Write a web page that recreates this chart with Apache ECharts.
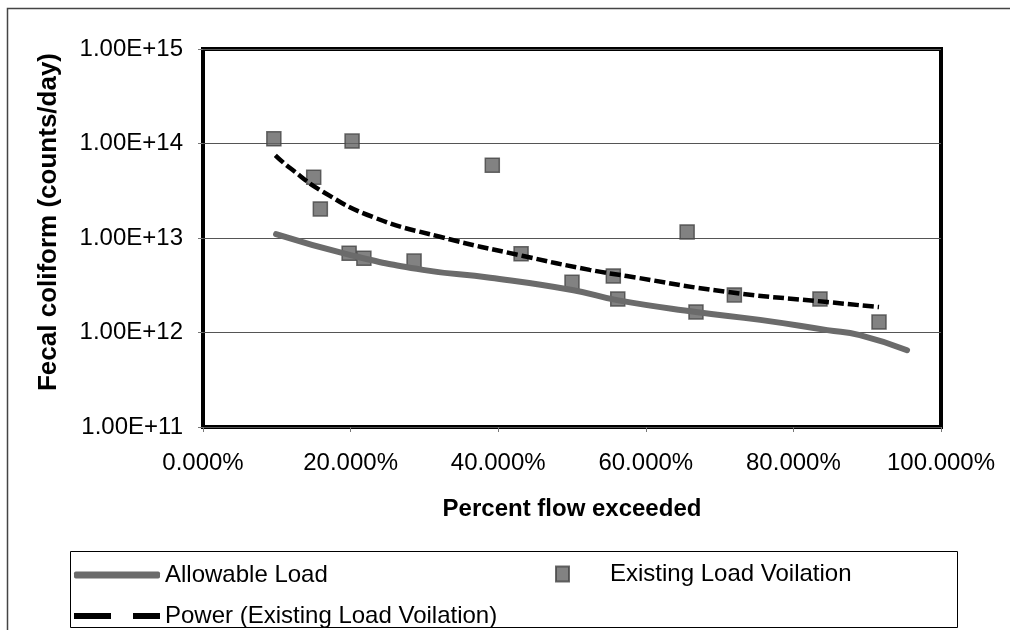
<!DOCTYPE html>
<html>
<head>
<meta charset="utf-8">
<script src="https://cdn.jsdelivr.net/npm/echarts@6/dist/echarts.min.js"></script>
<style>
  html, body { margin: 0; padding: 0; background: #fff; }
  #chart { width: 1010px; height: 630px; }
</style>
</head>
<body>
<div id="chart"></div>
<script>
// values (x = fraction of flow exceeded)
let allowX = [0.099, 0.2, 0.298, 0.389, 0.502, 0.561, 0.668, 0.755, 0.846, 0.89, 0.954]
let allowY = [1.1e13, 6.6e12, 4.6e12, 3.8e12, 2.8e12, 2.2e12, 1.65e12, 1.36e12, 1.06e12, 9.4e11, 6.5e11]

let existX = [0.096, 0.150, 0.159, 0.198, 0.202, 0.218, 0.286, 0.392, 0.431, 0.500, 0.556, 0.562, 0.656, 0.668, 0.720, 0.836, 0.916]
let existY = [1.12e14, 4.4e13, 2.03e13, 6.9e12, 1.06e14, 6.1e12, 5.7e12, 5.9e13, 6.8e12, 3.4e12, 3.96e12, 2.26e12, 1.16e13, 1.65e12, 2.5e12, 2.26e12, 1.29e12]

// power trendline
let powerX = [0.098, 0.118, 0.163, 0.230, 0.321, 0.434, 0.524, 0.574, 0.710, 0.846, 0.916]
let powerY = [7.5e13, 5.5e13, 3.07e13, 1.67e13, 1.03e13, 6.45e12, 4.6e12, 3.96e12, 2.69e12, 2.1e12, 1.86e12]

let seriesNames = ['Allowable Load', 'Existing Load Voilation', 'Power (Existing Load Voilation)']

function pairs(xs, ys) {
  let out = []
  for (let i = 0; i < xs.length; i++) {
    out.push([xs[i], ys[i]])
  }
  return out
}

let font = 'Liberation Sans, Arial, sans-serif'
let chart = echarts.init(document.getElementById('chart'))

let option = {
  backgroundColor: '#fff',
  animation: false,
  textStyle: { fontFamily: font },
  grid: {
    left: 203,
    top: 49,
    width: 738,
    height: 378,
    show: true,
    borderColor: '#000',
    borderWidth: 4
  },
  xAxis: {
    type: 'value',
    min: 0,
    max: 1,
    interval: 0.2,
    name: 'Percent flow exceeded',
    nameLocation: 'middle',
    nameGap: 70,
    nameTextStyle: { fontSize: 24, fontWeight: 'bold', color: '#000', fontFamily: font },
    axisLine: { show: false },
    axisTick: { show: true, length: 5, lineStyle: { color: '#777', width: 1 } },
    axisLabel: {
      margin: 24,
      fontSize: 24,
      color: '#000',
      fontFamily: font,
      formatter: function (v) {
        return (v * 100).toFixed(3) + '%'
      }
    },
    splitLine: { show: false }
  },
  yAxis: {
    type: 'log',
    logBase: 10,
    min: 1e11,
    max: 1e15,
    splitNumber: 4,
    axisLine: { show: false },
    axisTick: { show: true, length: 5, lineStyle: { color: '#777', width: 1 } },
    axisLabel: {
      margin: 20,
      fontSize: 24,
      color: '#000',
      fontFamily: font,
      formatter: function (v) {
        return '1.00E+' + Math.round(Math.log10(v))
      }
    },
    splitLine: { show: true, lineStyle: { color: '#555', width: 1 } },
    minorTick: { show: false }
  },
  legend: [
    {
      data: [{ name: seriesNames[0], icon: 'roundRect' }],
      left: 74,
      top: 563,
      padding: 0,
      itemWidth: 86,
      itemHeight: 7,
      selectedMode: false,
      textStyle: { fontSize: 24, color: '#000', fontFamily: font }
    },
    {
      data: [{ name: seriesNames[1], icon: 'rect' }],
      left: 555,
      top: 562,
      padding: 0,
      itemWidth: 13,
      itemHeight: 15,
      selectedMode: false,
      textStyle: { fontSize: 24, color: '#000', fontFamily: font, padding: [0, 0, 0, 36] }
    },
    {
      data: [{ name: seriesNames[2], icon: 'path://M0,0H37V6H0Z M59,0H86V6H59Z' }],
      left: 74,
      top: 604,
      padding: 0,
      itemWidth: 86,
      itemHeight: 6,
      selectedMode: false,
      textStyle: { fontSize: 24, color: '#000', fontFamily: font }
    }
  ],
  graphic: [
    {
      type: 'rect',
      z: -10,
      shape: { x: 7.5, y: 8.5, width: 1010, height: 640 },
      style: { fill: 'none', stroke: '#444', lineWidth: 1.5 }
    },
    {
      type: 'rect',
      z: -10,
      shape: { x: 70.5, y: 551.5, width: 887, height: 76 },
      style: { fill: '#fff', stroke: '#000', lineWidth: 1 }
    },
    {
      type: 'text',
      x: 49,
      y: 222,
      rotation: Math.PI / 2,
      style: {
        text: 'Fecal coliform (counts/day)',
        fontSize: 26,
        fontWeight: 'bold',
        fontFamily: font,
        fill: '#000',
        align: 'center',
        verticalAlign: 'middle'
      }
    }
  ],
  series: [
    {
      name: seriesNames[0],
      type: 'line',
      smooth: true,
      showSymbol: false,
      symbol: 'none',
      color: '#6b6b6b',
      lineStyle: { color: '#6b6b6b', width: 6, cap: 'round' },
      data: pairs(allowX, allowY)
    },
    {
      name: seriesNames[1],
      type: 'scatter',
      symbol: 'rect',
      symbolSize: 14,
      color: '#636363',
      itemStyle: { color: '#636363', borderColor: '#454545', borderWidth: 1.5 },
      data: pairs(existX, existY)
    },
    {
      name: seriesNames[2],
      type: 'line',
      smooth: true,
      showSymbol: false,
      symbol: 'none',
      color: '#000',
      lineStyle: { color: '#000', width: 4.5, type: [11, 4] },
      data: pairs(powerX, powerY)
    }
  ]
}

chart.setOption(option)
</script>
</body>
</html>
